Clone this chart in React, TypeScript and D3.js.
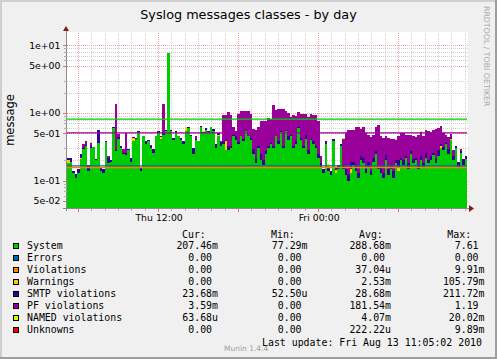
import React from 'react';
import * as d3 from 'd3';

const WIDTH = 497;
const HEIGHT = 359;

// 30 hour window, 160 samples
const START = new Date(2010, 7, 12, 5, 10);
const END = new Date(2010, 7, 13, 11, 10);

const system = [
  0.18, 0.19, 0.13, 0.11, 0.13, 0.21, 0.29, 0.33, 0.14, 0.30,
  0.31, 0.20, 0.36, 0.14, 0.13, 0.37, 0.18, 0.19, 0.60, 0.27,
  0.42, 0.30, 0.25, 0.24, 0.28, 0.19, 0.38, 0.42, 0.52, 0.14,
  0.45, 0.35, 0.39, 0.30, 0.26, 0.45, 0.50, 0.42, 0.48, 0.55,
  7.61, 0.55, 0.40, 0.50, 0.45, 0.40, 0.35, 0.55, 0.60, 0.45,
  0.25, 0.40, 0.38, 0.62, 0.50, 0.57, 0.52, 0.62, 0.55, 0.30,
  0.45, 0.33, 0.35, 0.28, 0.28, 0.30, 0.45, 0.40, 0.35, 0.45,
  0.38, 0.55, 0.45, 0.40, 0.25, 0.18, 0.30, 0.20, 0.17, 0.25,
  0.30, 0.35, 0.30, 0.45, 0.35, 0.50, 0.30, 0.55, 0.40, 0.45,
  0.30, 0.35, 0.60, 0.40, 0.30, 0.42, 0.25, 0.40, 0.35, 0.30,
  0.22, 0.16, 0.13, 0.35, 0.14, 0.12, 0.38, 0.13, 0.15, 0.32,
  0.15, 0.12, 0.10, 0.13, 0.17, 0.14, 0.11, 0.20, 0.18, 0.13,
  0.16, 0.12, 0.19, 0.25, 0.15, 0.13, 0.11, 0.20, 0.12, 0.15,
  0.11, 0.18, 0.14, 0.20, 0.17, 0.22, 0.15, 0.25, 0.18, 0.20,
  0.15, 0.20, 0.16, 0.22, 0.18, 0.20, 0.24, 0.18, 0.23, 0.30,
  0.28, 0.35, 0.25, 0.40, 0.20, 0.30, 0.16, 0.26, 0.17, 0.21,
];

const smtp = [
  0.02, 0.03, 0.01, 0.015, 0.02, 0.03, 0.01, 0.01, 0.03, 0.03,
  0.005, 0.01, 0.2, 0.02, 0.02, 0.01, 0.03, 0.01, 0.03, 0.01,
  0.02, 0.03, 0.01, 0.02, 0.01, 0.03, 0.005, 0.01, 0.02, 0.02,
  0.01, 0.04, 0.01, 0.02, 0.03, 0.01, 0.04, 0.02, 0.02, 0.01,
  0, 0.02, 0.03, 0.05, 0.01, 0.03, 0.04, 0.01, 0.02, 0.03,
  0.05, 0.02, 0.01, 0.02, 0.03, 0.04, 0.02, 0.01, 0.03, 0.05,
  0.02, 0.04, 0.03, 0.02, 0.04, 0.02, 0.03, 0.05, 0.02, 0.01,
  0.03, 0.02, 0.01, 0.03, 0.04, 0.03, 0.02, 0.05, 0.03, 0.02,
  0.03, 0.02, 0.02, 0.01, 0.04, 0.02, 0.03, 0.01, 0.05, 0.02,
  0.03, 0.04, 0.02, 0.03, 0.02, 0.05, 0.03, 0.02, 0.04, 0.03,
  0.03, 0.02, 0.02, 0.03, 0.015, 0.02, 0.03, 0.01, 0.02, 0.03,
  0.02, 0.03, 0.02, 0.04, 0.02, 0.03, 0.02, 0.03, 0.04, 0.02,
  0.03, 0.02, 0.03, 0.02, 0.01, 0.03, 0.02, 0.04, 0.03, 0.02,
  0.03, 0.02, 0.04, 0.02, 0.03, 0.01, 0.03, 0.02, 0.03, 0.02,
  0.02, 0.03, 0.02, 0.04, 0.02, 0.03, 0.02, 0.03, 0.05, 0.02,
  0.03, 0.02, 0.04, 0.02, 0.03, 0.02, 0.03, 0.01, 0.04, 0.02,
];

const pfViolations = [
  0, 0, 0, 0, 0, 0, 0.05, 0.04, 0, 0.03,
  0, 0, 0, 0, 0, 0, 0.02, 0, 0, 1.1,
  0.05, 0, 0.03, 0.25, 0, 0, 0, 0, 0, 0,
  0, 0, 0, 0.02, 0, 0, 0, 0, 0.85, 0,
  0, 0, 0, 0, 0, 0, 0, 0, 0, 0,
  0, 0.03, 0, 0, 0, 0, 0, 0, 0, 0,
  0, 0.02, 0.55, 0.55, 0.7, 0.6, 0.15, 0.1, 0.6, 0.6,
  0.65, 0.5, 0.6, 0.55, 0.3, 0.35, 0.3, 0.5, 0.55, 0.5,
  0.5, 0.45, 1.0, 0.65, 0.75, 0.6, 0.8, 0.5, 0.55, 0.4,
  0.6, 0.5, 0.4, 0.55, 0.65, 0.5, 0.6, 0.55, 0.55, 0.6,
  0.5, 0.05, 0, 0, 0, 0, 0, 0, 0, 0,
  0.25, 0.35, 0.45, 0.37, 0.38, 0.46, 0.5, 0.35, 0.4, 0.35,
  0.28, 0.3, 0.25, 0.35, 0.5, 0.29, 0.3, 0.22, 0.28, 0.24,
  0.27, 0.2, 0.25, 0.28, 0.3, 0.25, 0.3, 0.2, 0.25, 0.22,
  0.3, 0.3, 0.28, 0.3, 0.35, 0.3, 0.3, 0.38, 0.32, 0.3,
  0.2, 0.1, 0.15, 0.05, 0.05, 0, 0, 0.02, 0, 0,
];

// sparse series: [sample index, value]
const violationsAt: [number, number][] = [[16, 0.005], [36, 0.009], [70, 0.004]];
const warningsAt: [number, number][] = [
  [0, 0.02], [5, 0.01], [26, 0.05], [37, 0.02], [47, 0.07], [60, 0.03],
  [63, 0.1], [85, 0.02], [107, 0.015], [113, 0.02], [132, 0.02], [149, 0.03], [153, 0.02],
];
const namedAt: [number, number][] = [
  [9, 0.01], [20, 0.01], [54, 0.01], [86, 0.01], [93, 0.015], [97, 0.01], [104, 0.02],
  [110, 0.01], [117, 0.012], [124, 0.01], [131, 0.008], [137, 0.01], [141, 0.012],
  [146, 0.01], [150, 0.015], [153, 0.01],
];
const unknownsAt: [number, number][] = [[44, 0.005], [72, 0.0099], [120, 0.004]];

const seriesKeys = ['system', 'errors', 'violations', 'warnings', 'smtp', 'pf', 'named', 'unknowns'];
const seriesColors = ['#00CC00', '#0066B3', '#FF8000', '#FFCC00', '#330099', '#990099', '#CCFF00', '#FF0000'];
const seriesLabels = ['System', 'Errors', 'Violations', 'Warnings', 'SMTP violations', 'PF violations', 'NAMED violations', 'Unknowns'];

const curText = ['207.46m', '0.00 ', '0.00 ', '0.00 ', '23.68m', '3.59m', '63.68u', '0.00 '];
const minText = ['77.29m', '0.00 ', '0.00 ', '0.00 ', '52.50u', '0.00 ', '0.00 ', '0.00 '];
const avgText = ['288.68m', '0.00 ', '37.04u', '2.53m', '28.68m', '181.54m', '4.07m', '222.22u'];
const maxText = ['7.61 ', '0.00 ', '9.91m', '105.79m', '211.72m', '1.19 ', '20.02m', '9.89m'];

// warning lines
const ruleValues = [0.8, 0.5, 0.163, 0.154];
const ruleColors = ['#00CC00', '#990099', '#0066B3', '#FF8000'];

const yMajorTicks = [0.05, 0.1, 0.5, 1, 5, 10];
const yMinorTicks = [0.06, 0.07, 0.08, 0.09, 0.2, 0.3, 0.6, 0.7, 0.8, 0.9, 2, 3, 6, 7, 8, 9];

const PLOT_L = 67;
const PLOT_R = 467;
const PLOT_T = 33;
const PLOT_B = 208;

const SANS = 'DejaVu Sans, sans-serif';
const MONO = 'DejaVu Sans Mono, monospace';
const CHAR_W = 5.96;

const fmtExp = (v: number) => v.toExponential(0).replace(/e([+-])(\d)$/, 'e$10$2');

const App = () => {
  const x = d3.scaleTime().domain([START, END]).range([PLOT_L, PLOT_R]);
  const y = d3.scaleLog().domain([0.0395, 15.2]).range([PLOT_B, PLOT_T]).clamp(true);

  const n = system.length;
  const stepMs = (END.getTime() - START.getTime()) / n;
  const times = d3.range(n + 1).map(i => new Date(START.getTime() + i * stepMs));

  const sparse = (pairs: [number, number][]) => {
    const arr = system.map(() => 0);
    pairs.forEach(([i, v]) => { arr[i] = v; });
    return arr;
  };
  const errors = system.map(() => 0);
  const values = [system, errors, sparse(violationsAt), sparse(warningsAt), smtp, pfViolations, sparse(namedAt), sparse(unknownsAt)];

  const rows = times.map((_, i) => {
    const k = Math.min(i, n - 1);
    const r: Record<string, number> = {};
    seriesKeys.forEach((key, j) => { r[key] = values[j][k]; });
    return r;
  });
  const stacked = d3.stack<Record<string, number>>().keys(seriesKeys)(rows);

  const area = d3.area<d3.SeriesPoint<Record<string, number>>>()
    .curve(d3.curveStepAfter)
    .x((_, i) => x(times[i]))
    .y0(d => y(Math.max(d[0], 1e-4)))
    .y1(d => y(Math.max(d[1], 1e-4)));

  const hours = d3.timeHour.range(START, END);
  const crisp = (v: number) => Math.round(v) + 0.5;

  return (
    <div style={{ position: 'absolute', left: 0, top: 0 }}>
      <svg width={WIDTH} height={HEIGHT} style={{ display: 'block' }}>
        <rect x={0} y={0} width={WIDTH} height={HEIGHT} fill="#F0F0F0" />
        {/* shaded frame */}
        <path d={`M0,0H${WIDTH}V2H2V${HEIGHT}H0Z`} fill="#CFCFCF" />
        <path d={`M${WIDTH},${HEIGHT}H0V${HEIGHT - 2}H${WIDTH - 2}V0H${WIDTH}Z`} fill="#9E9E9E" />

        <rect x={PLOT_L} y={PLOT_T - 1} width={PLOT_R - PLOT_L + 1} height={PLOT_B - PLOT_T + 1} fill="#FFFFFF" />

        {/* grid */}
        <g strokeDasharray="1,1" strokeWidth={1} shapeRendering="crispEdges">
          {yMinorTicks.map(v => (
            <line key={`ym${v}`} x1={PLOT_L} x2={PLOT_R + 1} y1={crisp(y(v))} y2={crisp(y(v))} stroke="#CFCFCF" />
          ))}
          {hours.filter(h => h.getHours() % 6 !== 0).map(h => (
            <line key={`xm${+h}`} x1={crisp(x(h))} x2={crisp(x(h))} y1={PLOT_T} y2={PLOT_B} stroke="#CFCFCF" />
          ))}
          {yMajorTicks.map(v => (
            <line key={`yM${v}`} x1={PLOT_L} x2={PLOT_R + 1} y1={crisp(y(v))} y2={crisp(y(v))} stroke="#F2A0A0" />
          ))}
          {hours.filter(h => h.getHours() % 6 === 0).map(h => (
            <line key={`xM${+h}`} x1={crisp(x(h))} x2={crisp(x(h))} y1={PLOT_T} y2={PLOT_B} stroke="#F2A0A0" />
          ))}
        </g>

        {/* stacked areas */}
        <g shapeRendering="crispEdges">
          {stacked.map((layer, j) => (
            <path key={layer.key} d={area(layer) || undefined} fill={seriesColors[j]} />
          ))}
        </g>

        {/* warning rules */}
        <g>
          {ruleValues.map((v, j) => (
            <line key={`r${j}`} x1={PLOT_L} x2={PLOT_R} y1={y(v) - 0.5} y2={y(v) - 0.5} stroke={ruleColors[j]} strokeWidth={1.3} />
          ))}
        </g>

        {/* axes */}
        <g shapeRendering="crispEdges" stroke="#8A8A8A">
          <line x1={PLOT_L - 0.5} x2={PLOT_L - 0.5} y1={PLOT_B + 3} y2={PLOT_T - 3} />
          <line x1={PLOT_L - 4} x2={PLOT_R + 3} y1={PLOT_B + 0.5} y2={PLOT_B + 0.5} />
          {yMinorTicks.map(v => (
            <line key={`tym${v}`} x1={PLOT_L - 3} x2={PLOT_L} y1={crisp(y(v))} y2={crisp(y(v))} stroke="#B0B0B0" />
          ))}
          {yMajorTicks.map(v => (
            <line key={`tyM${v}`} x1={PLOT_L - 4} x2={PLOT_L} y1={crisp(y(v))} y2={crisp(y(v))} stroke="#E07070" />
          ))}
          {hours.map(h => (
            <line key={`tx${+h}`} x1={crisp(x(h))} x2={crisp(x(h))} y1={PLOT_B + 1} y2={PLOT_B + (h.getHours() % 6 === 0 ? 4 : 3)}
              stroke={h.getHours() % 6 === 0 ? '#E07070' : '#B0B0B0'} />
          ))}
        </g>
        <path d={`M${PLOT_L - 4},${PLOT_T - 2}L${PLOT_L + 2},${PLOT_T - 2}L${PLOT_L - 1},${PLOT_T - 7}Z`} fill="#8B1A1A" />
        <path d={`M${PLOT_R + 2},${PLOT_B - 3}L${PLOT_R + 2},${PLOT_B + 4}L${PLOT_R + 7},${PLOT_B + 0.5}Z`} fill="#8B1A1A" />

        {/* axis labels */}
        <g fontFamily={SANS} fontSize={9.33} fill="#000">
          {yMajorTicks.map(v => (
            <text key={`yl${v}`} x={60.5} y={y(v) + 3.4} textAnchor="end">{fmtExp(v)}</text>
          ))}
          {hours.filter(h => h.getHours() % 12 === 0).map(h => (
            <text key={`xl${+h}`} x={x(h) + 1} y={221} textAnchor="middle">{d3.timeFormat('%a %H:%M')(h)}</text>
          ))}
        </g>

        <text x={WIDTH / 2} y={18.5} textAnchor="middle" fontFamily={SANS} fontSize={12.8} fill="#000">
          Syslog messages classes - by day
        </text>
        <text transform="translate(13.5,120) rotate(-90)" textAnchor="middle" fontFamily={SANS} fontSize={11.5} fill="#000">
          message
        </text>
        <text transform="translate(484,6) rotate(90)" textAnchor="start" fontFamily={SANS} fontSize={7.8} fill="#A8A8A8">
          RRDTOOL / TOBI OETIKER
        </text>

        {/* legend */}
        <g fontFamily={MONO} fontSize={9.9} fill="#000">
          <text x={182} y={237.5}>Cur:</text>
          <text x={271} y={237.5}>Min:</text>
          <text x={359} y={237.5}>Avg:</text>
          <text x={447.3} y={237.5}>Max:</text>
          {seriesLabels.map((label, i) => {
            const cy = 245.8 + 12 * i;
            const cols: [string[], number][] = [[curText, 218], [minText, 307.5], [avgText, 391], [maxText, 484.5]];
            return (
              <g key={label}>
                <rect x={13.5} y={cy - 2.5} width={5} height={5} fill={seriesColors[i]} stroke="#000" strokeWidth={1} shapeRendering="crispEdges" />
                <text x={27} y={cy + 3.5}>{label}</text>
                {cols.map(([arr, r], c) => {
                  const s = arr[i];
                  const trimmed = s.trimEnd();
                  return (
                    <text key={c} x={r - (s.length - trimmed.length) * CHAR_W} y={cy + 3.5} textAnchor="end">{trimmed}</text>
                  );
                })}
              </g>
            );
          })}
          <text x={262} y={345.5}>Last update: Fri Aug 13 11:05:02 2010</text>
        </g>
        <text x={224} y={350.5} fontFamily={SANS} fontSize={7.5} fill="#A0A0A0">Munin 1.4.4</text>
      </svg>
    </div>
  );
};

export default App;
